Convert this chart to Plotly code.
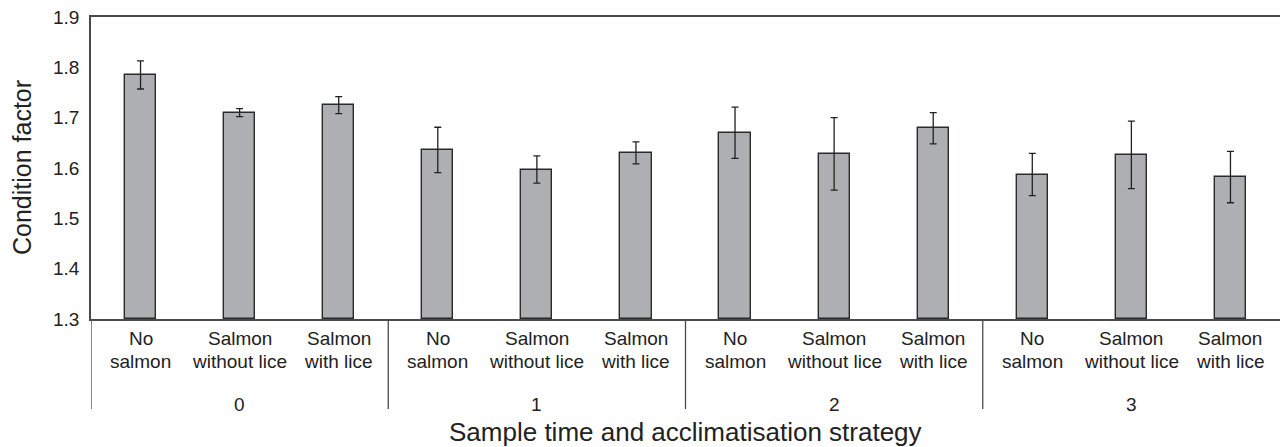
import plotly.graph_objects as go

# Condition factor by sample time and acclimatisation strategy
sample_times = ["0", "1", "2", "3"]
strategies = [["No", "salmon"], ["Salmon", "without lice"], ["Salmon", "with lice"]]
condition = [1.785, 1.710, 1.725,
             1.636, 1.597, 1.630,
             1.670, 1.628, 1.679,
             1.587, 1.626, 1.582]
condition_err = [0.028, 0.008, 0.017,
                 0.045, 0.027, 0.022,
                 0.051, 0.072, 0.031,
                 0.042, 0.067, 0.051]
y_ticks = [1.3, 1.4, 1.5, 1.6, 1.7, 1.8, 1.9]

W, H = 1280, 447
L, R, T, B = 91, 0, 17, 128
plot_h = H - T - B
plot_w = W - L - R
FONT = "Liberation Sans, Arial, Helvetica, sans-serif"
TXT = "#222222"
LINE = "#4a4a4a"


def py(pixel_y):
    """Pixel row -> paper y coordinate."""
    return (H - B - pixel_y) / plot_h


def px(pixel_x):
    """Pixel column -> paper x coordinate."""
    return (pixel_x - L) / plot_w


n_per_group = len(strategies)
xs = list(range(len(condition)))

fig = go.Figure(
    go.Bar(
        x=xs,
        y=[v - y_ticks[0] for v in condition],
        base=y_ticks[0],
        width=0.315,
        marker=dict(color="#aeafb3", line=dict(color="#2b2b2b", width=1.4)),
        error_y=dict(type="data", array=condition_err, color="#222222",
                     thickness=1.3, width=3.5),
        hoverinfo="skip",
    )
)

annotations = []
shapes = []

# two-line strategy labels under each bar
for i in xs:
    lines = strategies[i % n_per_group]
    for txt, yy in zip(lines, (339, 361)):
        annotations.append(dict(
            x=i, y=py(yy), xref="x", yref="paper", text=txt, showarrow=False,
            xanchor="center", yanchor="middle",
            font=dict(family=FONT, size=19, color=TXT)))

# sample-time labels and group separators
for g, label in enumerate(sample_times):
    centre = g * n_per_group + (n_per_group - 1) / 2
    annotations.append(dict(
        x=centre, y=py(405), xref="x", yref="paper", text=label, showarrow=False,
        xanchor="center", yanchor="middle",
        font=dict(family=FONT, size=19, color=TXT)))
    x_sep = g * n_per_group - 0.5
    shapes.append(dict(type="line", xref="x", yref="paper",
                       x0=x_sep, x1=x_sep, y0=0, y1=py(409),
                       line=dict(color=LINE, width=1.3)))

# axis titles
annotations.append(dict(
    x=0.5, y=py(432), xref="paper", yref="paper",
    text="Sample time and acclimatisation strategy", showarrow=False,
    xanchor="center", yanchor="middle",
    font=dict(family=FONT, size=26, color=TXT)))
annotations.append(dict(
    x=px(22), y=0.5, xref="paper", yref="paper",
    text="Condition factor", showarrow=False, textangle=-90,
    xanchor="center", yanchor="middle",
    font=dict(family=FONT, size=25, color=TXT)))

fig.update_layout(
    width=W, height=H,
    margin=dict(l=L, r=R, t=T, b=B, pad=0),
    paper_bgcolor="white", plot_bgcolor="white",
    showlegend=False,
    bargap=0,
    annotations=annotations,
    shapes=shapes,
    xaxis=dict(
        range=[-0.5, len(condition) - 0.5],
        showticklabels=False, ticks="", showgrid=False, zeroline=False,
        showline=True, mirror=True, linecolor=LINE, linewidth=1.5,
    ),
    yaxis=dict(
        range=[y_ticks[0], y_ticks[-1]],
        tickvals=y_ticks, ticktext=[f"{v:.1f}" for v in y_ticks],
        ticks="outside", ticklen=6, tickcolor="rgba(0,0,0,0)",
        tickfont=dict(family=FONT, size=19, color=TXT),
        showgrid=False, zeroline=False,
        showline=True, linecolor=LINE, linewidth=1.5,
    ),
)

fig.write_html("out.html")
